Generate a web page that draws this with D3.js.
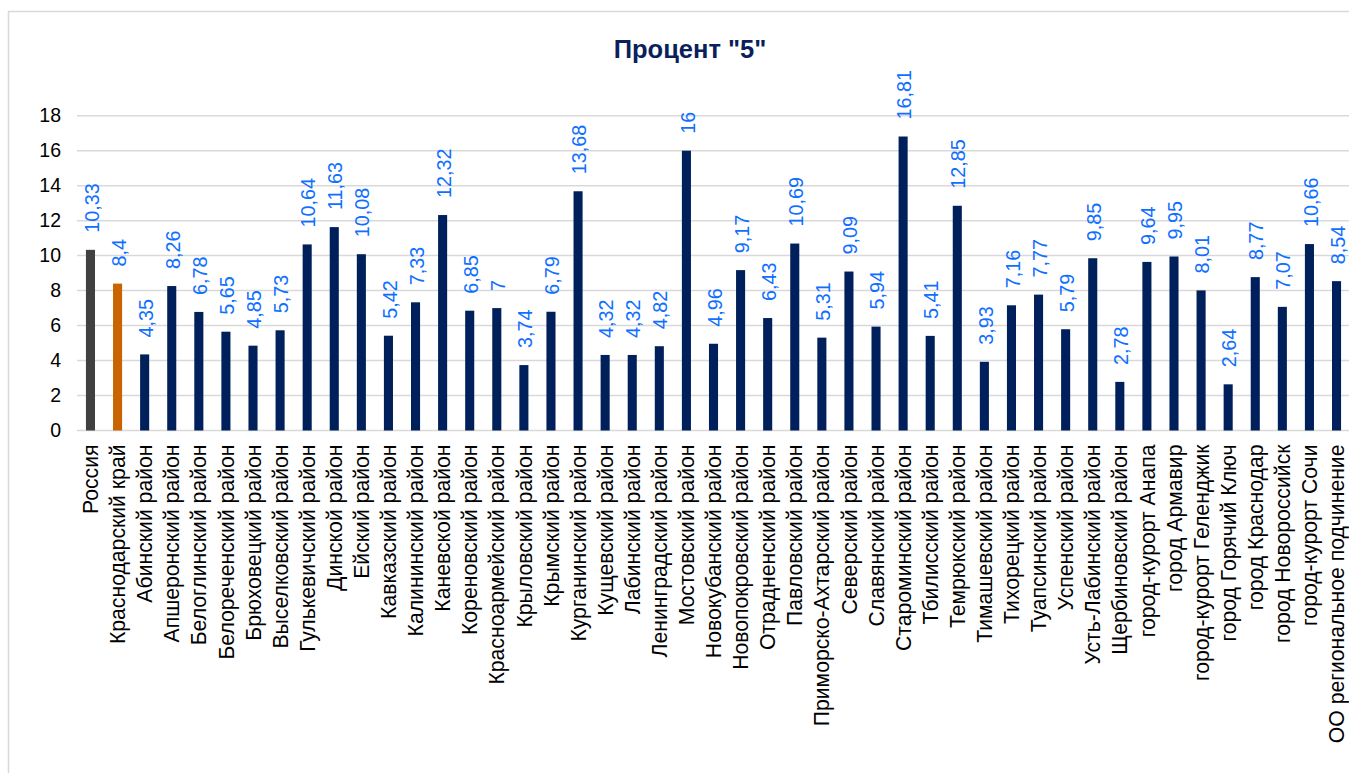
<!DOCTYPE html>
<html><head><meta charset="utf-8">
<script src="https://cdn.jsdelivr.net/npm/d3@7"></script>
<style>body{margin:0;background:#fff}svg{display:block}</style>
</head><body><svg id="c" width="1349" height="773"></svg>
<script>
const categories = ["Россия","Краснодарский край","Абинский район","Апшеронский район","Белоглинский район","Белореченский район","Брюховецкий район","Выселковский район","Гулькевичский район","Динской район","Ейский район","Кавказский район","Калининский район","Каневской район","Кореновский район","Красноармейский район","Крыловский район","Крымский район","Курганинский район","Кущевский район","Лабинский район","Ленинградский район","Мостовский район","Новокубанский район","Новопокровский район","Отрадненский район","Павловский район","Приморско-Ахтарский район","Северский район","Славянский район","Староминский район","Тбилисский район","Темрюкский район","Тимашевский район","Тихорецкий район","Туапсинский район","Успенский район","Усть-Лабинский район","Щербиновский район","город-курорт Анапа","город Армавир","город-курорт Геленджик","город Горячий Ключ","город Краснодар","город Новороссийск","город-курорт Сочи","ОО региональное подчинение"];
const values = [10.33,8.4,4.35,8.26,6.78,5.65,4.85,5.73,10.64,11.63,10.08,5.42,7.33,12.32,6.85,7,3.74,6.79,13.68,4.32,4.32,4.82,16,4.96,9.17,6.43,10.69,5.31,9.09,5.94,16.81,5.41,12.85,3.93,7.16,7.77,5.79,9.85,2.78,9.64,9.95,8.01,2.64,8.77,7.07,10.66,8.54];
const yTicks = [0,2,4,6,8,10,12,14,16,18];
const title = 'Процент "5"';
const barColors = {"Россия":"#404040","Краснодарский край":"#c96500"};
const defaultColor = "#00205b";

const svg = d3.select("#c");
const font = "'Liberation Sans', Arial, sans-serif";
svg.append("rect").attr("x",8.5).attr("y",11.5).attr("width",1400).attr("height",800)
  .attr("fill","#fff").attr("stroke","#d9d9d9").attr("stroke-width",1.5);

const L = 77, R = 1350, T = 115.7, B = 430.5;
const x = d3.scaleBand().domain(categories).range([L,R]).paddingInner(0.665).paddingOuter(0.33);
const y = d3.scaleLinear().domain([0,18]).range([B,T]);

svg.append("text").attr("x",690).attr("y",58).attr("text-anchor","middle")
  .attr("font-family",font).attr("font-weight","bold").attr("font-size",25.5)
  .attr("fill","#0a1f5c").text(title);

// gridlines
svg.append("g").selectAll("line").data(yTicks).join("line")
  .attr("x1",L).attr("x2",R).attr("y1",d=>y(d)).attr("y2",d=>y(d))
  .attr("stroke","#d9d9d9").attr("stroke-width",1.5);

// y axis
const ya = svg.append("g").attr("transform",`translate(${L},0)`)
  .call(d3.axisLeft(y).tickValues(yTicks).tickSize(0).tickPadding(16));
ya.select(".domain").remove();
ya.selectAll("text").attr("font-family",font).attr("font-size",19.5).attr("fill","#000");

// bars
svg.append("g").selectAll("rect").data(values).join("rect")
  .attr("x",(d,i)=>x(categories[i])).attr("width",x.bandwidth())
  .attr("y",d=>y(d)).attr("height",d=>B-y(d))
  .attr("fill",(d,i)=>barColors[categories[i]]||defaultColor);

// value labels
svg.append("g").selectAll("text").data(values).join("text")
  .attr("transform",(d,i)=>`translate(${x(categories[i])+x.bandwidth()/2+1},${y(d)-17}) rotate(-90)`)
  .attr("dy","0.36em").attr("font-family",font).attr("font-size",19.8).attr("fill","#0f6fff")
  .text(d=>String(d).replace(".",","));

// x axis
const xa = svg.append("g").attr("transform",`translate(0,${B})`)
  .call(d3.axisBottom(x).tickSize(0).tickPadding(0));
xa.select(".domain").remove();
xa.selectAll("text").attr("font-family",font).attr("font-size",21.2).attr("fill","#000")
  .attr("text-anchor","end").attr("dy","0.36em")
  .attr("transform","translate(0,14) rotate(-90)").attr("x",0).attr("y",0);
</script></body></html>
